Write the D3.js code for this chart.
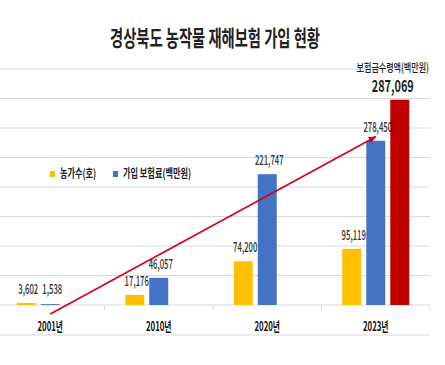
<!DOCTYPE html>
<html>
<head>
<meta charset="utf-8">
<script src="https://cdn.jsdelivr.net/npm/d3@7"></script>
<style>
  body { margin: 0; background: #fff; }
  text { font-family: "Noto Sans CJK KR", "Noto Sans", sans-serif; }
</style>
</head>
<body>
<svg id="chart"></svg>
<script>
// data
var years = ["2001년", "2010년", "2020년", "2023년"];
var farms = [3602, 17176, 74200, 95119];          // 농가수(호)
var premiums = [1538, 46057, 221747, 278450];     // 가입 보험료(백만원)
var payouts = [null, null, null, 287069];         // 보험금수령액(백만원)
var seriesKeys = ["farms", "premiums", "payouts"];
var seriesColors = ["#FFC000", "#4472C4", "#C00000"];
var legendNames = ["농가수(호)", "가입 보험료(백만원)"];

var width = 445, height = 365;
var svg = d3.select("#chart").attr("width", width).attr("height", height);

var x = d3.scaleBand().domain(years).range([-4, 430]).padding(0);
var xs = d3.scaleBand().domain(seriesKeys).range([20.75, 87.75]).paddingInner(0.21);
var y = d3.scaleLinear().domain([0, 400000]).range([305, 69]);
// the red bar sits on its own (hidden) secondary axis
var y2 = d3.scaleLinear().domain([0, 330000]).range([305, 69]);

// squeeze text horizontally like the narrow font of the original
var condense = function(sel, k) {
  sel.each(function() {
    var w = this.getComputedTextLength();
    d3.select(this).attr("textLength", w * k).attr("lengthAdjust", "spacingAndGlyphs");
  });
};

// gridlines
svg.selectAll("line.grid")
  .data(y.ticks(8))
  .enter().append("line")
  .attr("class", "grid")
  .attr("x1", 0).attr("x2", 430)
  .attr("y1", function(d) { return y(d); })
  .attr("y2", function(d) { return y(d); })
  .attr("stroke", "#d9d9d9").attr("stroke-width", 1);

// category tick marks
var bounds = years.map(function(d) { return x(d); }).concat([x.range()[1]]);
svg.selectAll("line.tick")
  .data(bounds)
  .enter().append("line")
  .attr("x1", function(d) { return d; }).attr("x2", function(d) { return d; })
  .attr("y1", y(0)).attr("y2", y(0) + 5)
  .attr("stroke", "#d9d9d9");

svg.append("line")
  .attr("x1", 0).attr("x2", 430).attr("y1", 335).attr("y2", 335)
  .attr("stroke", "#d9d9d9");

// bars
var rows = [];
years.forEach(function(yr, i) {
  [farms[i], premiums[i], payouts[i]].forEach(function(v, j) {
    if (v != null) rows.push({ year: yr, key: seriesKeys[j], value: v, color: seriesColors[j] });
  });
});
var scaleFor = function(d) { return d.key == "payouts" ? y2 : y; };

svg.selectAll("rect.bar")
  .data(rows)
  .enter().append("rect")
  .attr("class", "bar")
  .attr("x", function(d) { return x(d.year) + xs(d.key); })
  .attr("width", xs.bandwidth())
  .attr("y", function(d) { return scaleFor(d)(d.value); })
  .attr("height", function(d) { return y(0) - scaleFor(d)(d.value); })
  .attr("fill", function(d) { return d.color; });

// value labels
svg.selectAll("text.val")
  .data(rows.filter(function(d) { return d.key != "payouts"; }))
  .enter().append("text")
  .attr("class", "val")
  .attr("x", function(d) { return x(d.year) + xs(d.key) + xs.bandwidth() / 2 + 2; })
  .attr("y", function(d) { return Math.min(scaleFor(d)(d.value), y(0) - 2) - 9; })
  .attr("text-anchor", "middle")
  .attr("font-size", 14)
  .attr("font-weight", 500)
  .attr("fill", "#333")
  .text(function(d) { return d3.format(",")(d.value); })
  .call(condense, 0.55);

// red bar label
var red = rows.filter(function(d) { return d.key == "payouts"; })[0];
var redX = x(red.year) + xs(red.key) + xs.bandwidth() / 2 - 7;
svg.append("text")
  .attr("x", redX).attr("y", y2(red.value) - 8)
  .attr("text-anchor", "middle")
  .attr("font-size", 16).attr("font-weight", "bold")
  .attr("fill", "#222")
  .text(d3.format(",")(red.value))
  .call(condense, 0.68);
svg.append("text")
  .attr("x", redX).attr("y", y2(red.value) - 28)
  .attr("text-anchor", "middle")
  .attr("font-size", 11.5)
  .attr("font-weight", 500)
  .attr("fill", "#222")
  .text("보험금수령액(백만원)")
  .call(condense, 0.7);

// x labels
svg.selectAll("text.xl")
  .data(years)
  .enter().append("text")
  .attr("class", "xl")
  .attr("x", function(d) { return x(d) + x.bandwidth() / 2; })
  .attr("y", 331)
  .attr("text-anchor", "middle")
  .attr("font-size", 13).attr("font-weight", "bold")
  .attr("fill", "#111")
  .text(function(d) { return d; })
  .call(condense, 0.6);

// legend
var legendX = [50, 113];
legendNames.forEach(function(name, i) {
  svg.append("rect")
    .attr("x", legendX[i]).attr("y", 171)
    .attr("width", 5).attr("height", 6)
    .attr("fill", seriesColors[i]);
  svg.append("text")
    .attr("x", legendX[i] + 10).attr("y", 178)
    .attr("font-size", 12)
    .attr("font-weight", "bold")
    .attr("fill", "#222")
    .text(name)
    .call(condense, 0.68);
});

// red trend arrow
svg.append("defs").append("marker")
  .attr("id", "head")
  .attr("markerUnits", "userSpaceOnUse")
  .attr("viewBox", "0 0 10 10")
  .attr("refX", 9).attr("refY", 5)
  .attr("markerWidth", 8).attr("markerHeight", 8)
  .attr("orient", "auto")
  .append("path")
  .attr("d", "M0,1 L10,5 L0,9 z")
  .attr("fill", "#D0021B");

svg.append("line")
  .attr("x1", x(years[0]) + x.bandwidth() / 2)
  .attr("y1", y(0) + 9)
  .attr("x2", x(years[3]) + xs("premiums") + xs.bandwidth() / 2)
  .attr("y2", y(premiums[3]) - 4)
  .attr("stroke", "#D0021B")
  .attr("stroke-width", 1.6)
  .attr("marker-end", "url(#head)");

// title
svg.append("text")
  .attr("x", 215).attr("y", 46)
  .attr("text-anchor", "middle")
  .attr("font-size", 22).attr("font-weight", "bold")
  .attr("fill", "#222")
  .text("경상북도 농작물 재해보험 가입 현황")
  .attr("textLength", 210).attr("lengthAdjust", "spacingAndGlyphs");
</script>
</body>
</html>
